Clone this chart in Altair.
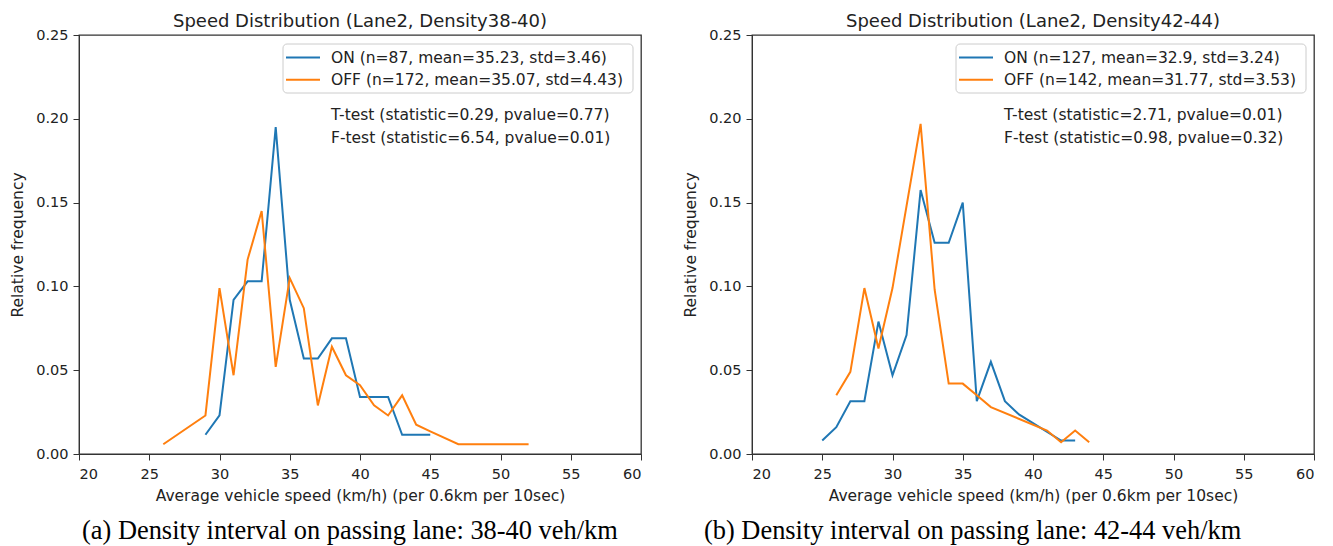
import altair as alt
import pandas as pd

# ---------------- data ----------------
# Panel (a): Density 38-40
speed_on_a = [29, 30, 31, 32, 33, 34, 35, 36, 37, 38, 39, 40, 41, 42, 43, 45]
freq_on_a = [0.0115, 0.023, 0.092, 0.103, 0.103, 0.195, 0.092, 0.057, 0.057,
             0.069, 0.069, 0.034, 0.034, 0.034, 0.0115, 0.0115]
speed_off_a = [26, 29, 30, 31, 32, 33, 34, 35, 36, 37, 38, 39, 40, 41, 42, 43, 44, 45, 47, 52]
freq_off_a = [0.0058, 0.023, 0.099, 0.047, 0.116, 0.145, 0.052, 0.105, 0.087, 0.029,
              0.064, 0.047, 0.041, 0.029, 0.023, 0.035, 0.0175, 0.0135, 0.0058, 0.0058]

# Panel (b): Density 42-44
speed_on_b = [25, 26, 27, 28, 29, 30, 31, 32, 33, 34, 35, 36, 37, 38, 39, 42, 43]
freq_on_b = [0.008, 0.016, 0.0315, 0.0315, 0.079, 0.047, 0.071, 0.1575, 0.126,
             0.126, 0.15, 0.0315, 0.055, 0.0315, 0.0236, 0.008, 0.008]
speed_off_b = [26, 27, 28, 29, 30, 31, 32, 33, 34, 35, 36, 37, 41, 42, 43, 44]
freq_off_b = [0.035, 0.049, 0.099, 0.063, 0.099, 0.148, 0.197, 0.098, 0.042,
              0.042, 0.035, 0.028, 0.014, 0.007, 0.014, 0.007]

titles = ["Speed Distribution (Lane2, Density38-40)",
          "Speed Distribution (Lane2, Density42-44)"]
legend_on = ["ON (n=87, mean=35.23, std=3.46)", "ON (n=127, mean=32.9, std=3.24)"]
legend_off = ["OFF (n=172, mean=35.07, std=4.43)", "OFF (n=142, mean=31.77, std=3.53)"]
ttest = ["T-test (statistic=0.29, pvalue=0.77)", "T-test (statistic=2.71, pvalue=0.01)"]
ftest = ["F-test (statistic=6.54, pvalue=0.01)", "F-test (statistic=0.98, pvalue=0.32)"]
captions = ["(a) Density interval on passing lane: 38-40 veh/km",
            "(b) Density interval on passing lane: 42-44 veh/km"]
x_ticks = [20, 25, 30, 35, 40, 45, 50, 55, 60]
y_ticks = [0.0, 0.05, 0.10, 0.15, 0.20, 0.25]

# ---------------- styling ----------------
BLUE = "#1f77b4"
ORANGE = "#ff7f0e"
FONT = "DejaVu Sans"
TXT = "#222222"
W, H = 562, 419
caption_x = [3, -48]


def panel(i, on_x, on_y, off_x, off_y):
    x = alt.X("speed:Q",
              scale=alt.Scale(domain=[20, 60], nice=False, zero=False),
              axis=alt.Axis(values=x_ticks, format="d",
                            title="Average vehicle speed (km/h) (per 0.6km per 10sec)"))
    y = alt.Y("freq:Q",
              scale=alt.Scale(domain=[0, 0.25], nice=False),
              axis=alt.Axis(values=y_ticks, format=".2f", title="Relative frequency"))
    df_on = pd.DataFrame({"speed": on_x, "freq": on_y})
    df_off = pd.DataFrame({"speed": off_x, "freq": off_y})
    l_on = alt.Chart(df_on).mark_line(strokeWidth=2, color=BLUE).encode(x=x, y=y)
    l_off = alt.Chart(df_off).mark_line(strokeWidth=2, color=ORANGE).encode(x=x, y=y)

    one = pd.DataFrame({"k": [0]})
    box = alt.Chart(one).mark_rect(fill="white", stroke="#cccccc", strokeWidth=1,
                                   cornerRadius=4).encode(
        x=alt.value(204), x2=alt.value(554), y=alt.value(9), y2=alt.value(58))
    r_on = alt.Chart(one).mark_rule(color=BLUE, strokeWidth=2).encode(
        x=alt.value(207), x2=alt.value(241), y=alt.value(22.5))
    r_off = alt.Chart(one).mark_rule(color=ORANGE, strokeWidth=2).encode(
        x=alt.value(207), x2=alt.value(241), y=alt.value(44.7))

    def txt(s, yy, xx=252):
        return alt.Chart(one).mark_text(align="left", baseline="middle", font=FONT,
                                        fontSize=15.5, color=TXT).encode(
            x=alt.value(xx), y=alt.value(yy), text=alt.value(s))

    cap = alt.Chart(one).mark_text(align="left", baseline="alphabetic",
                                   font="Liberation Serif", fontSize=26.4,
                                   color="black").encode(
        x=alt.value(caption_x[i]), y=alt.value(504), text=alt.value(captions[i]))

    return alt.layer(
        l_on, l_off, box, r_on, r_off,
        txt(legend_on[i], 22.5), txt(legend_off[i], 44.7),
        txt(ttest[i], 80), txt(ftest[i], 102.5), cap
    ).properties(
        width=W, height=H,
        title=alt.TitleParams(titles[i], fontSize=18, font=FONT, fontWeight="normal",
                              color=TXT, offset=-4)
    )


chart = alt.hconcat(
    panel(0, speed_on_a, freq_on_a, speed_off_a, freq_off_a),
    panel(1, speed_on_b, freq_on_b, speed_off_b, freq_off_b),
    spacing=40
).properties(
    padding={"left": 2, "top": 4, "right": 0, "bottom": 0}
).configure_view(
    stroke="#333333", strokeWidth=1.3
).configure_axis(
    grid=False, domainColor="#333333", tickColor="#333333", tickSize=6,
    labelColor=TXT, titleColor=TXT, labelFont=FONT, titleFont=FONT,
    labelFontSize=14.5, titleFontSize=15.5, titleFontWeight="normal"
).configure_axisY(
    titlePadding=10, labelPadding=5
).configure_axisX(
    titlePadding=8, labelPadding=7
)

chart.save("out.html", embed_options={"renderer": "svg", "actions": False})
